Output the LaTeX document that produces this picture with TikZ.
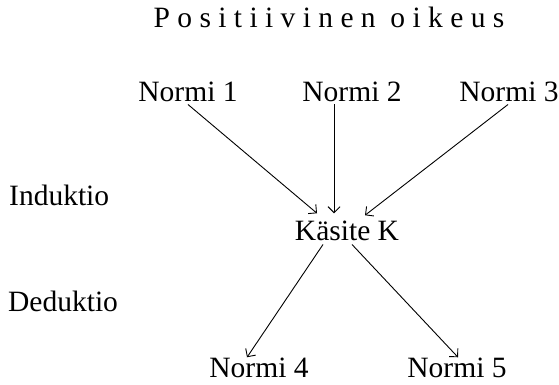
\documentclass[tikz,border=0pt]{standalone}
\usepackage{fontspec}
\setmainfont{Liberation Serif}
\usetikzlibrary{arrows.meta}
\begin{document}
\begin{tikzpicture}[x=1pt,y=-1pt,
  lbl/.style={inner sep=0pt, anchor=base, font=\fontsize{29.5}{32}\selectfont},
  arr/.style={draw, line width=0.9pt, -{Straight Barb[length=6pt,width=12pt]}}]
\useasboundingbox (0,0) rectangle (559,384);
\node[lbl] (title) at (329,27) {P o s i t i i v i n e n\ \ o i k e u s};
\node[lbl] (n1) at (188,101) {Normi 1};
\node[lbl] (n2) at (352,101) {Normi 2};
\node[lbl] (n3) at (509,101) {Normi 3};
\node[lbl] (k) at (347,240) {Käsite K};
\node[lbl] (n4) at (259,377) {Normi 4};
\node[lbl] (n5) at (457,377) {Normi 5};
\node[lbl, anchor=base west] (ind) at (9,205) {Induktio};
\node[lbl, anchor=base west] (ded) at (8,311) {Deduktio};
\draw[arr] ([yshift=-3pt]n1.south) -- ([xshift=-30pt,yshift=7pt]k.north);
\draw[arr] ([xshift=-18pt,yshift=-3pt]n2.south) -- ([xshift=-13pt,yshift=7pt]k.north);
\draw[arr] ([xshift=-1pt,yshift=-3pt]n3.south) -- ([xshift=18pt,yshift=5pt]k.north);
\draw[arr] ([xshift=-24pt,yshift=-4pt]k.south) -- ([xshift=-12pt]n4.north);
\draw[arr] ([xshift=5pt,yshift=-4pt]k.south) -- ([xshift=1pt]n5.north);
\end{tikzpicture}
\end{document}
